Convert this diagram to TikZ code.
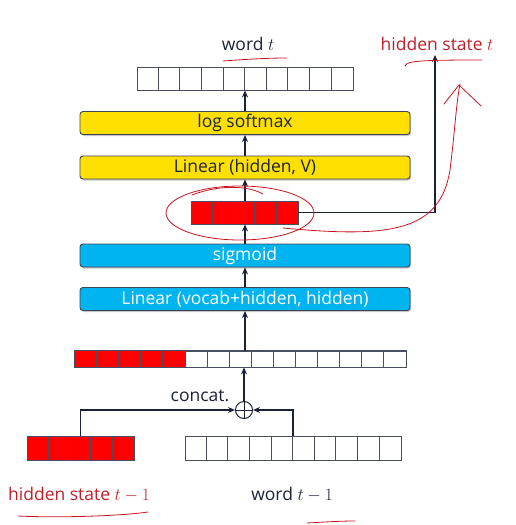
\documentclass[tikz,border=0pt]{standalone}
\usepackage{fontspec}
\setmainfont{Open Sans}
\usetikzlibrary{arrows.meta,shadows}
\definecolor{ink}{HTML}{1B2238}
\definecolor{ylw}{HTML}{FFE000}
\definecolor{blu}{HTML}{00B4F0}
\definecolor{hred}{HTML}{FF0000}
\definecolor{pen}{HTML}{C8141E}
\definecolor{lbl}{HTML}{C0202A}
\tikzset{
  layer/.style={draw=ink!85, rounded corners=3pt, minimum width=330pt, minimum height=23pt,
    inner sep=0pt, line width=0.9pt, font=\fontsize{17.5}{19}\selectfont,
    drop shadow={shadow xshift=1.2pt, shadow yshift=-1.5pt, opacity=0.45}},
  vec/.style={draw=ink!80, line width=0.8pt, inner sep=0pt, minimum height=23pt,
    drop shadow={shadow xshift=1pt, shadow yshift=-1pt, opacity=0.3}},
  arr/.style={draw=ink, line width=1.4pt, -{Stealth[length=7pt,width=6pt]}},
  annot/.style={draw=pen, line width=0.8pt, line cap=round, line join=round},
  lab/.style={font=\fontsize{17.5}{19}\selectfont, inner sep=1pt}
}
\begin{document}
\begin{tikzpicture}[x=1pt,y=-1pt]
\useasboundingbox (0,0) rectangle (515,525);

% labels
\node[lab, text=ink] (wt) at (248,44) {word $t$};
\node[lab, text=lbl] (hst) at (437,44) {hidden state $t$};
\node[lab, text=lbl] (hsp) at (79,495) {hidden state $t-1$};
\node[lab, text=ink] (wpl) at (292,495) {word $t-1$};

% top vector (10 cells)
\node[vec, fill=white, minimum width=216pt] (wv) at (245,78.5) {};
\foreach \i in {1,...,9} \draw[ink!80, line width=0.8pt] ([xshift=\i*21.6pt]wv.north west) -- ([xshift=\i*21.6pt]wv.south west);

% layer boxes
\node[layer, fill=ylw, text=ink] (lsm) at (245,123) {log softmax};
\node[layer, fill=ylw, text=ink] (lin2) at (245,167.5) {Linear (hidden, V)};
\node[layer, fill=blu, text=white] (sig) at (245,255.5) {sigmoid};
\node[layer, fill=blu, text=white] (lin1) at (245,299) {Linear (vocab+hidden, hidden)};

% hidden vector
\node[vec, fill=hred, minimum width=107pt] (hv) at (244.5,212.5) {};
\foreach \i in {1,...,4} \draw[ink!80, line width=0.8pt] ([xshift=\i*21.4pt]hv.north west) -- ([xshift=\i*21.4pt]hv.south west);

% concatenated vector
\node[vec, fill=white, minimum width=331pt, minimum height=16pt] (cv) at (240.5,359) {};
\fill[hred] (cv.north west) rectangle ([xshift=110.3pt]cv.south west);
\draw[ink!80, line width=0.8pt] (cv.north west) rectangle (cv.south east);
\foreach \i in {1,...,14} \draw[ink!80, line width=0.8pt] ([xshift=\i*22.07pt]cv.north west) -- ([xshift=\i*22.07pt]cv.south west);

% oplus
\node[draw=ink, line width=1pt, circle, minimum size=17pt, inner sep=0pt] (op) at (244,410) {};
\draw[ink, line width=1pt] (op.north) -- (op.south) (op.west) -- (op.east);
\node[font=\fontsize{17.5}{19}\selectfont, text=ink, inner sep=1pt] (cc) at (200,396) {concat.};

% bottom vectors
\node[vec, fill=hred, minimum width=107pt, minimum height=24pt] (hp) at (80.5,448) {};
\foreach \i in {1,...,4} \draw[ink!80, line width=0.8pt] ([xshift=\i*21.4pt]hp.north west) -- ([xshift=\i*21.4pt]hp.south west);
\node[vec, fill=white, minimum width=216pt, minimum height=24pt] (wp) at (293,448) {};
\foreach \i in {1,...,9} \draw[ink!80, line width=0.8pt] ([xshift=\i*21.6pt]wp.north west) -- ([xshift=\i*21.6pt]wp.south west);

% connectors
\draw[arr] (lsm.north) -- (wv.south);
\draw[arr] (lin2.north) -- (lsm.south);
\draw[arr] (hv.north -| lin2.south) -- (lin2.south);
\draw[arr] (sig.north) -- (hv.south -| sig.north);
\draw[arr] (lin1.north) -- (sig.south);
\draw[arr] (cv.north -| lin1.north) -- (lin1.south);
\draw[arr] (op.north) -- (cv.south -| op.north);
\draw[arr] (hp.north) |- (op.west);
\draw[arr] (wp.north) |- (op.east);
\draw[arr] (hv.east) -| ([xshift=-2pt,yshift=-3pt]hst.south);

% hand-drawn annotations
\draw[annot] (223,61) .. controls (250,59) and (270,58) .. (287,58);
\draw[annot] (405,66) .. controls (407,61) and (418,60) .. (482,60);
\draw[annot] (240,213) ellipse [x radius=74, y radius=27];
\draw[annot] (192,195) .. controls (215,186) and (245,184) .. (263,194);
\draw[annot] (283,228) .. controls (390,238) and (440,232) .. (450,170)
   .. controls (455,130) and (456,105) .. (460,84);
\draw[annot] (444,104) -- (459,85) -- (481,106);
\draw[annot] (18,516) .. controls (60,518) and (120,516) .. (148,512);
\draw[annot] (307,523) .. controls (325,522) and (340,521) .. (355,521);
\end{tikzpicture}
\end{document}
